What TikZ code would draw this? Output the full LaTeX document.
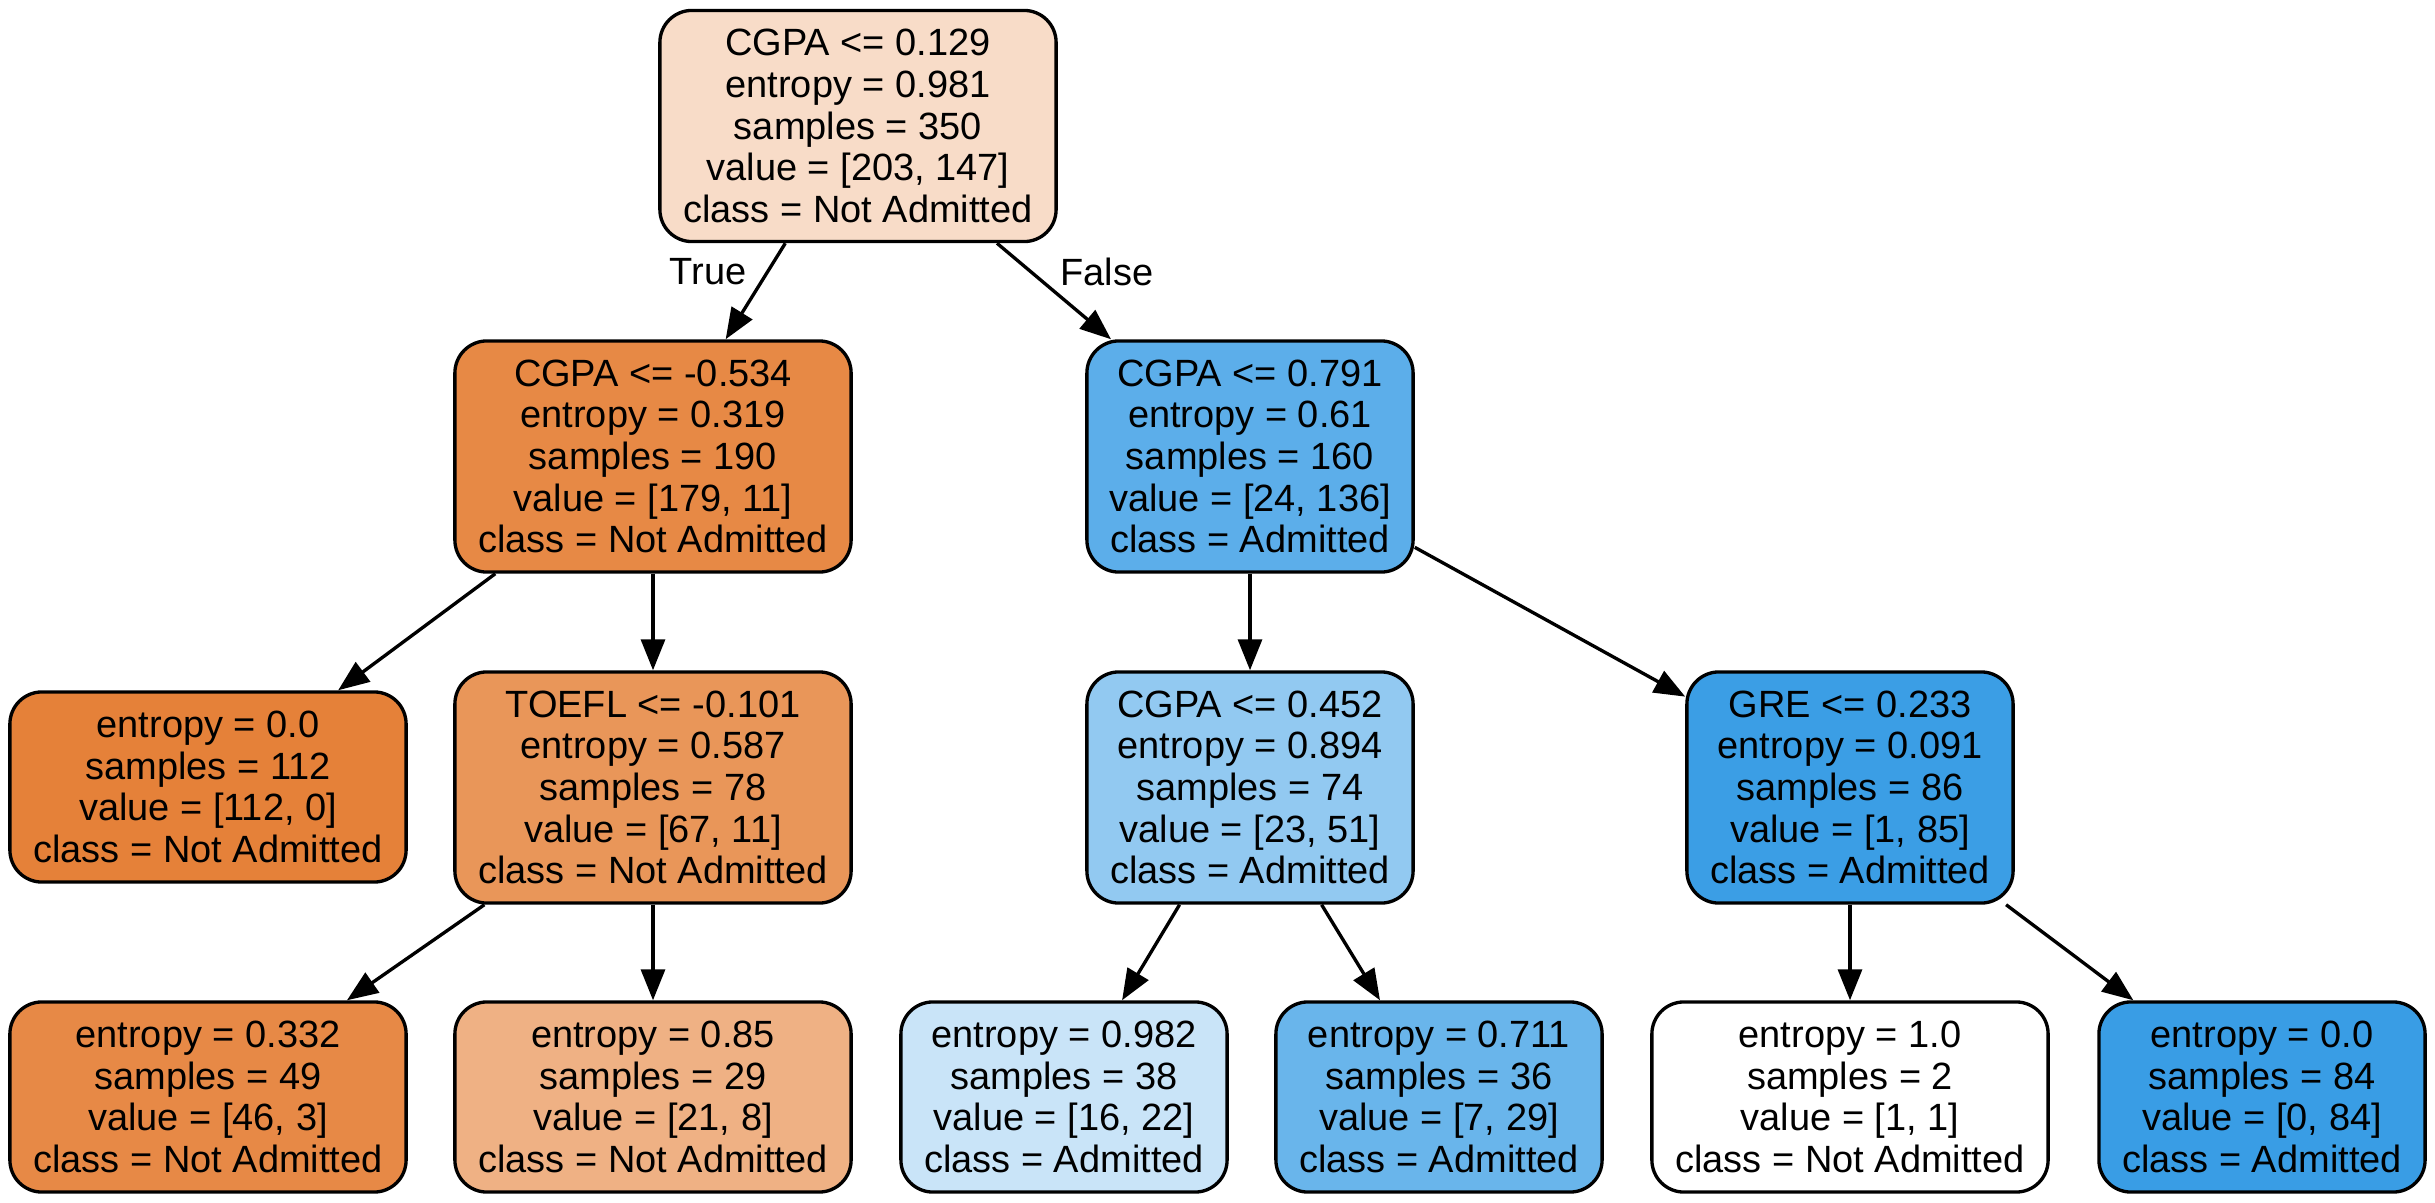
\documentclass[tikz,border=0pt]{standalone}
\usepackage{fontspec}
\setmainfont{Liberation Sans}
\usetikzlibrary{arrows.meta}
\definecolor{cRoot}{RGB}{248,220,200}
\definecolor{cNa}{RGB}{231,137,69}
\definecolor{cLz}{RGB}{229,129,57}
\definecolor{cToefl}{RGB}{233,150,89}
\definecolor{cBa}{RGB}{231,137,70}
\definecolor{cBb}{RGB}{239,177,132}
\definecolor{cNb}{RGB}{92,174,234}
\definecolor{cCg}{RGB}{146,201,241}
\definecolor{cGre}{RGB}{59,158,229}
\definecolor{cBc}{RGB}{201,228,248}
\definecolor{cBd}{RGB}{105,181,235}
\definecolor{cBf}{RGB}{57,157,229}
\tikzset{
  box/.style={draw=black, line width=0.95pt, rounded corners=0.32cm, align=center,
    inner sep=0pt, font=\fontsize{10.8}{11.86}\selectfont},
  wide/.style={minimum width=3.96cm},
  narrow/.style={minimum width=3.26cm},
  tallbox/.style={minimum height=2.31cm},
  shortbox/.style={minimum height=1.90cm},
  conn/.style={line width=0.95pt, -{Triangle[length=0.31cm,width=0.24cm]}},
  lbl/.style={font=\fontsize{10.8}{11.86}\selectfont, inner sep=0pt}
}
\begin{document}
\begin{tikzpicture}[x=0.01cm, y=-0.01cm]
\useasboundingbox[fill=white] (0,0) rectangle (2435,1203);
% level 0
\node[box, wide, tallbox, fill=cRoot] (root) at (858,126)
  {CGPA <= 0.129\\entropy = 0.981\\samples = 350\\value = [203, 147]\\class = Not Admitted};
% level 1
\node[box, wide, tallbox, fill=cNa] (n1) at (653,456.5)
  {CGPA <= -0.534\\entropy = 0.319\\samples = 190\\value = [179, 11]\\class = Not Admitted};
\node[box, narrow, tallbox, fill=cNb] (n2) at (1250,456.5)
  {CGPA <= 0.791\\entropy = 0.61\\samples = 160\\value = [24, 136]\\class = Admitted};
% level 2
\node[box, wide, shortbox, fill=cLz] (l0) at (208,787)
  {entropy = 0.0\\samples = 112\\value = [112, 0]\\class = Not Admitted};
\node[box, wide, tallbox, fill=cToefl] (toefl) at (653,787.5)
  {TOEFL <= -0.101\\entropy = 0.587\\samples = 78\\value = [67, 11]\\class = Not Admitted};
\node[box, narrow, tallbox, fill=cCg] (cg) at (1250,787.5)
  {CGPA <= 0.452\\entropy = 0.894\\samples = 74\\value = [23, 51]\\class = Admitted};
\node[box, narrow, tallbox, fill=cGre] (gre) at (1850,787.5)
  {GRE <= 0.233\\entropy = 0.091\\samples = 86\\value = [1, 85]\\class = Admitted};
% level 3
\node[box, wide, shortbox, fill=cBa] (b1) at (208,1097)
  {entropy = 0.332\\samples = 49\\value = [46, 3]\\class = Not Admitted};
\node[box, wide, shortbox, fill=cBb] (b2) at (653,1097)
  {entropy = 0.85\\samples = 29\\value = [21, 8]\\class = Not Admitted};
\node[box, narrow, shortbox, fill=cBc] (b3) at (1064,1097)
  {entropy = 0.982\\samples = 38\\value = [16, 22]\\class = Admitted};
\node[box, narrow, shortbox, fill=cBd] (b4) at (1439,1097)
  {entropy = 0.711\\samples = 36\\value = [7, 29]\\class = Admitted};
\node[box, wide, shortbox, fill=white] (b5) at (1850,1097)
  {entropy = 1.0\\samples = 2\\value = [1, 1]\\class = Not Admitted};
\node[box, narrow, shortbox, fill=cBf] (b6) at (2262,1097)
  {entropy = 0.0\\samples = 84\\value = [0, 84]\\class = Admitted};
% connectors
\draw[conn] (root) -- (n1);
\draw[conn] (root) -- (n2);
\draw[conn] (n1) -- (l0);
\draw[conn] (n1) -- (toefl);
\draw[conn] (n2) -- (cg);
\draw[conn] (n2) -- (gre);
\draw[conn] (toefl) -- (b1);
\draw[conn] (toefl) -- (b2);
\draw[conn] (cg) -- (b3);
\draw[conn] (cg) -- (b4);
\draw[conn] (gre) -- (b5);
\draw[conn] (gre) -- (b6);
% edge labels
\node[lbl] (ltrue) at (708,272) {True};
\node[lbl] (lfalse) at (1107,272) {False};
\end{tikzpicture}
\end{document}
